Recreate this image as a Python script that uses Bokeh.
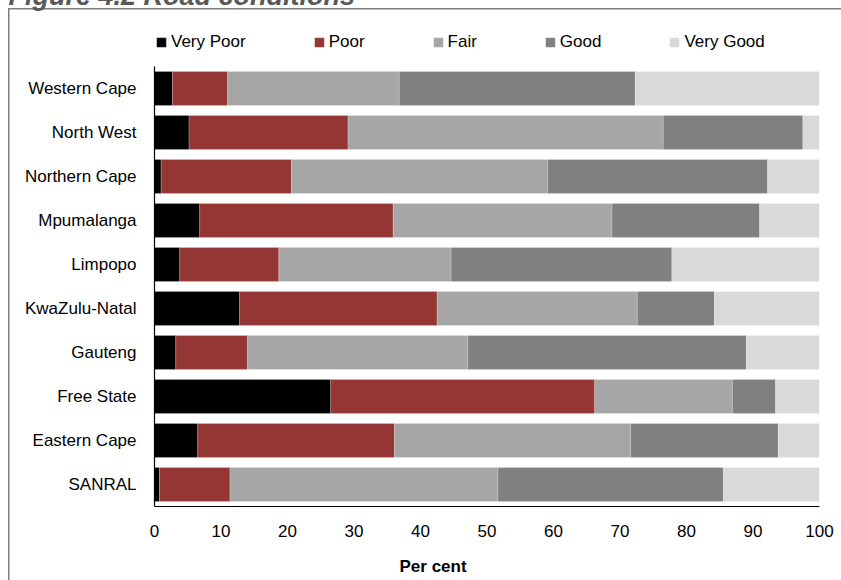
from bokeh.plotting import figure
from bokeh.models import ColumnDataSource, Range1d, Title, FixedTicker
from bokeh.embed import file_html
from bokeh.resources import INLINE

regions = ["SANRAL", "Eastern Cape", "Free State", "Gauteng", "KwaZulu-Natal",
           "Limpopo", "Mpumalanga", "Northern Cape", "North West", "Western Cape"]
very_poor = [0.75, 6.5, 26.5, 3.2, 12.8, 3.8, 6.8, 1.0, 5.2, 2.7]
poor      = [10.6, 29.6, 39.7, 10.8, 29.7, 14.9, 29.1, 19.6, 23.9, 8.3]
fair      = [40.3, 35.5, 20.7, 33.1, 30.1, 25.9, 32.9, 38.5, 47.4, 25.8]
good      = [33.9, 22.2, 6.5, 41.9, 11.6, 33.2, 22.2, 33.1, 21.0, 35.5]
very_good = [14.45, 6.2, 6.6, 11.0, 15.8, 22.2, 9.0, 7.8, 2.5, 27.7]
series = ["Very Poor", "Poor", "Fair", "Good", "Very Good"]
colors = ["#000000", "#943634", "#a6a6a6", "#808080", "#d9d9d9"]
x_ticks = [0, 10, 20, 30, 40, 50, 60, 70, 80, 90, 100]

FONT = "Liberation Sans"

ypos = list(range(len(regions)))
source = ColumnDataSource(dict(y=ypos, region=regions, vp=very_poor, p=poor,
                               f=fair, g=good, vg=very_good))

n = len(regions)
p = figure(width=841, height=580, output_backend="svg", toolbar_location=None,
           title=None,
           x_range=Range1d(0, 100), y_range=Range1d(-0.5, n - 0.5 + 35 / 44),
           min_border_left=154, min_border_right=22, min_border_top=31,
           min_border_bottom=74)
p.outline_line_color = None
p.xgrid.grid_line_color = None
p.ygrid.grid_line_color = None
p.border_fill_alpha = 0
p.styles = {
    "background": ("linear-gradient(#7f7f7f,#7f7f7f) 8px 8px / 1.5px 100% no-repeat, "
                   "linear-gradient(#7f7f7f,#7f7f7f) 8px 8px / 100% 1.5px no-repeat, white"),
}

p.hbar_stack(["vp", "p", "f", "g", "vg"], y="y", height=0.77,
             color=colors, line_color="white", line_alpha=0.35, line_width=0.6,
             source=source, legend_label=series)

for ax in (p.xaxis[0], p.yaxis[0]):
    ax.axis_line_color = "black"
    ax.axis_line_width = 1.2
    ax.major_tick_line_color = None
    ax.minor_tick_line_color = None
    ax.major_tick_out = 0
    ax.major_tick_in = 0
    ax.minor_tick_out = 0
    ax.minor_tick_in = 0
    ax.major_label_text_font = FONT
    ax.major_label_text_font_size = "17px"
    ax.major_label_text_color = "black"
p.xaxis.ticker = FixedTicker(ticks=x_ticks)
p.xaxis.major_label_standoff = 18
p.yaxis.ticker = FixedTicker(ticks=ypos)
p.yaxis.major_label_overrides = {i: r for i, r in zip(ypos, regions)}
p.yaxis.bounds = (-0.5, n - 0.5)
p.yaxis.major_label_standoff = 18

leg = p.legend[0]
leg.orientation = "horizontal"
leg.location = (1, 454)
leg.padding = 0
leg.margin = 0
leg.spacing = 67
leg.label_standoff = 4
leg.glyph_width = 12
leg.glyph_height = 12
leg.label_height = 10
leg.border_line_color = None
leg.background_fill_alpha = 0
leg.label_text_font = FONT
leg.label_text_font_size = "17px"
leg.label_text_color = "black"

p.add_layout(Title(text="Figure 4.2  Road conditions\n\n", align="left", offset=-146,
                   text_line_height=1.0,
                   text_font=FONT, text_font_size="27px", text_font_style="bold italic",
                   text_color="#595959", standoff=-78), "above")

p.add_layout(Title(text="\nPer cent", align="left", offset=245, standoff=-8,
                   text_line_height=1.0,
                   text_font=FONT, text_font_size="17px", text_font_style="bold",
                   text_color="black"), "below")

open("out.html", "w").write(file_html(p, INLINE))
